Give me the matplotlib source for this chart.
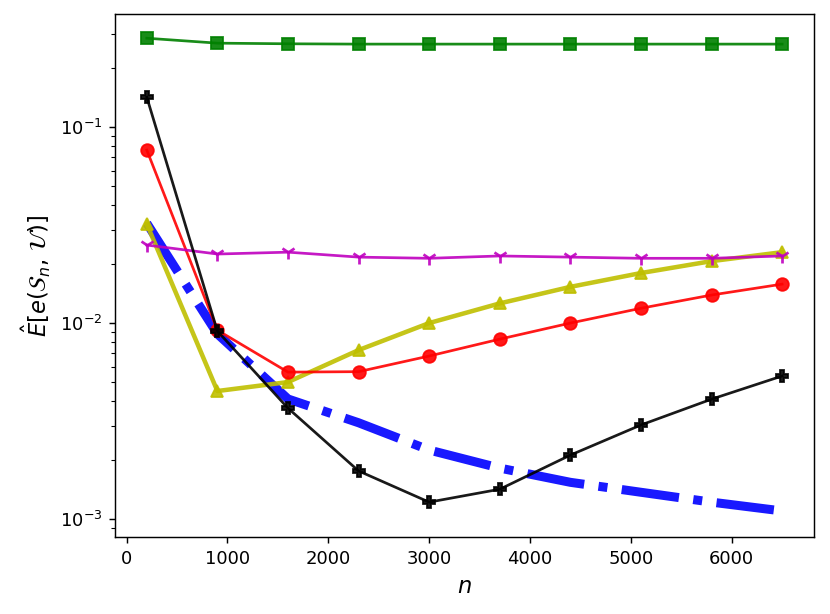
import matplotlib
matplotlib.use("Agg")
import matplotlib.pyplot as plt

n_vals = [200, 900, 1600, 2300, 3000, 3700, 4400, 5100, 5800, 6500]

err_green = [0.284, 0.268, 0.266, 0.265, 0.265, 0.265, 0.265, 0.265, 0.265, 0.265]
err_black = [0.142, 0.0091, 0.00368, 0.00176, 0.00122, 0.00142, 0.00212, 0.00302, 0.00409, 0.00537]
err_red = [0.0763, 0.0092, 0.00562, 0.00565, 0.00679, 0.00828, 0.0100, 0.0119, 0.0139, 0.0158]
err_yellow = [0.032, 0.0045, 0.0050, 0.00728, 0.0100, 0.0126, 0.0153, 0.0180, 0.0207, 0.0230]
err_magenta = [0.025, 0.0225, 0.023, 0.0217, 0.0214, 0.0220, 0.0217, 0.0214, 0.0214, 0.0220]
err_blue = [0.0323, 0.0088, 0.0041, 0.0031, 0.00225, 0.00182, 0.00154, 0.00137, 0.00122, 0.0011]

fig = plt.figure(figsize=(830 / 130, 614 / 130), dpi=130)
ax = fig.add_axes([0.1386, 0.1254, 0.842, 0.852])

ax.plot(n_vals, err_green, "g-s", lw=1.5, ms=7, alpha=0.9)
ax.plot(n_vals, err_blue, "b-.", lw=5, alpha=0.9)
ax.plot(n_vals, err_yellow, "y-^", lw=2.5, ms=7, alpha=0.9)
ax.plot(n_vals, err_red, "r-o", lw=1.5, ms=7, alpha=0.9)
ax.plot(n_vals, err_magenta, "m-1", lw=1.5, ms=8, mew=1.5, alpha=0.9)
ax.plot(n_vals, err_black, "k-P", lw=1.5, ms=7, alpha=0.9)

ax.set_yscale("log")
ax.set_ylim(8.1e-4, 0.378)
ax.set_xlabel(r"$n$", fontsize=12.5)
ax.set_ylabel(r"$\hat{E}[e(\mathcal{S}_n,\, \mathcal{U})]$", fontsize=12.5)

fig.savefig("out.png", dpi=130)
